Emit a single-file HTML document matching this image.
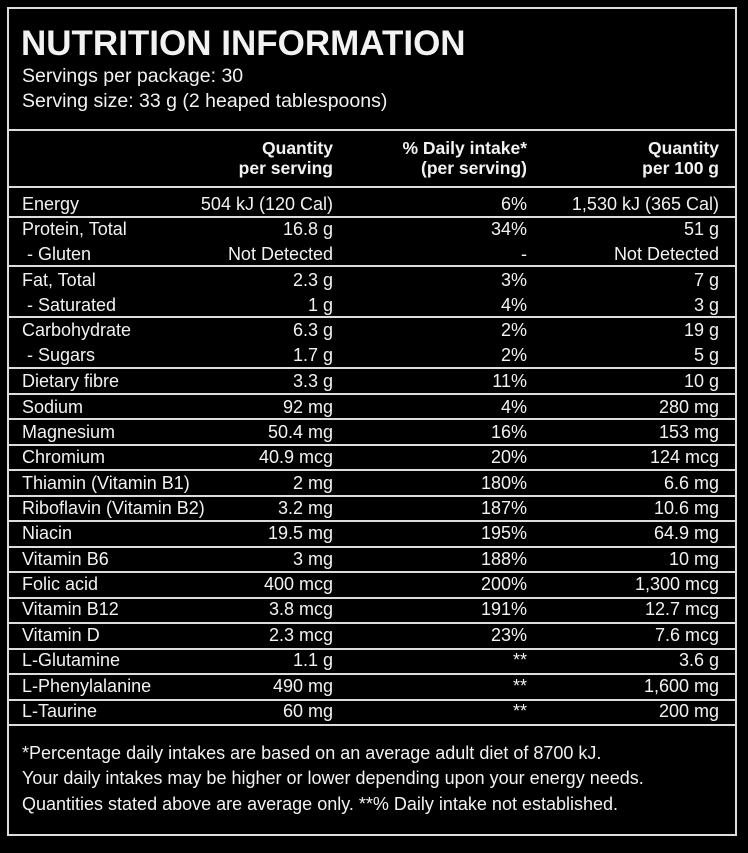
<!DOCTYPE html>
<html><head><meta charset="utf-8"><style>
body{margin:0;background:#000;width:748px;height:853px;overflow:hidden;position:relative;font-family:"Liberation Sans",sans-serif;color:#f2f2f2}
.box{position:absolute;left:7px;top:7px;width:726px;height:825px;border:2px solid #ddd}
.h{position:absolute;left:7px;width:730px;height:2px;background:#ddd}
.t{position:absolute;white-space:nowrap;line-height:20px;font-size:18px}
.r{text-align:right}
.b{font-weight:bold;font-size:17.5px}
</style></head><body>
<div class="box"></div>
<div class="t b" style="left:21px;top:27px;font-size:35px;line-height:34px">NUTRITION INFORMATION</div>
<div class="t" style="left:22px;top:66px;font-size:19.5px">Servings per package: 30</div>
<div class="t" style="left:22px;top:91px;font-size:19.5px">Serving size: 33 g (2 heaped tablespoons)</div>
<div class="h" style="top:129px"></div>
<div class="t b r" style="right:415px;top:138px">Quantity<br>per serving</div>
<div class="t b r" style="right:221px;top:138px">% Daily intake*<br>(per serving)</div>
<div class="t b r" style="right:29px;top:138px">Quantity<br>per 100 g</div>
<div class="h" style="top:186px"></div>
<div class="h" style="top:216px"></div>
<div class="h" style="top:265px"></div>
<div class="h" style="top:316px"></div>
<div class="h" style="top:367px"></div>
<div class="h" style="top:393px"></div>
<div class="h" style="top:418px"></div>
<div class="h" style="top:444px"></div>
<div class="h" style="top:469px"></div>
<div class="h" style="top:495px"></div>
<div class="h" style="top:520px"></div>
<div class="h" style="top:546px"></div>
<div class="h" style="top:571px"></div>
<div class="h" style="top:597px"></div>
<div class="h" style="top:622px"></div>
<div class="h" style="top:648px"></div>
<div class="h" style="top:673px"></div>
<div class="h" style="top:699px"></div>
<div class="h" style="top:724px"></div>

<div class="t" style="left:22px;top:194px">Energy</div><div class="t r" style="right:415px;top:194px">504 kJ (120 Cal)</div><div class="t r" style="right:221px;top:194px">6%</div><div class="t r" style="right:29px;top:194px">1,530 kJ (365 Cal)</div>
<div class="t" style="left:22px;top:219px">Protein, Total</div><div class="t r" style="right:415px;top:219px">16.8 g</div><div class="t r" style="right:221px;top:219px">34%</div><div class="t r" style="right:29px;top:219px">51 g</div>
<div class="t" style="left:22px;top:244px">&nbsp;- Gluten</div><div class="t r" style="right:415px;top:244px">Not Detected</div><div class="t r" style="right:221px;top:244px">-</div><div class="t r" style="right:29px;top:244px">Not Detected</div>
<div class="t" style="left:22px;top:270px">Fat, Total</div><div class="t r" style="right:415px;top:270px">2.3 g</div><div class="t r" style="right:221px;top:270px">3%</div><div class="t r" style="right:29px;top:270px">7 g</div>
<div class="t" style="left:22px;top:295px">&nbsp;- Saturated</div><div class="t r" style="right:415px;top:295px">1 g</div><div class="t r" style="right:221px;top:295px">4%</div><div class="t r" style="right:29px;top:295px">3 g</div>
<div class="t" style="left:22px;top:320px">Carbohydrate</div><div class="t r" style="right:415px;top:320px">6.3 g</div><div class="t r" style="right:221px;top:320px">2%</div><div class="t r" style="right:29px;top:320px">19 g</div>
<div class="t" style="left:22px;top:345px">&nbsp;- Sugars</div><div class="t r" style="right:415px;top:345px">1.7 g</div><div class="t r" style="right:221px;top:345px">2%</div><div class="t r" style="right:29px;top:345px">5 g</div>
<div class="t" style="left:22px;top:371px">Dietary fibre</div><div class="t r" style="right:415px;top:371px">3.3 g</div><div class="t r" style="right:221px;top:371px">11%</div><div class="t r" style="right:29px;top:371px">10 g</div>
<div class="t" style="left:22px;top:397px">Sodium</div><div class="t r" style="right:415px;top:397px">92 mg</div><div class="t r" style="right:221px;top:397px">4%</div><div class="t r" style="right:29px;top:397px">280 mg</div>
<div class="t" style="left:22px;top:422px">Magnesium</div><div class="t r" style="right:415px;top:422px">50.4 mg</div><div class="t r" style="right:221px;top:422px">16%</div><div class="t r" style="right:29px;top:422px">153 mg</div>
<div class="t" style="left:22px;top:447px">Chromium</div><div class="t r" style="right:415px;top:447px">40.9 mcg</div><div class="t r" style="right:221px;top:447px">20%</div><div class="t r" style="right:29px;top:447px">124 mcg</div>
<div class="t" style="left:22px;top:473px">Thiamin (Vitamin B1)</div><div class="t r" style="right:415px;top:473px">2 mg</div><div class="t r" style="right:221px;top:473px">180%</div><div class="t r" style="right:29px;top:473px">6.6 mg</div>
<div class="t" style="left:22px;top:498px">Riboflavin (Vitamin B2)</div><div class="t r" style="right:415px;top:498px">3.2 mg</div><div class="t r" style="right:221px;top:498px">187%</div><div class="t r" style="right:29px;top:498px">10.6 mg</div>
<div class="t" style="left:22px;top:523px">Niacin</div><div class="t r" style="right:415px;top:523px">19.5 mg</div><div class="t r" style="right:221px;top:523px">195%</div><div class="t r" style="right:29px;top:523px">64.9 mg</div>
<div class="t" style="left:22px;top:549px">Vitamin B6</div><div class="t r" style="right:415px;top:549px">3 mg</div><div class="t r" style="right:221px;top:549px">188%</div><div class="t r" style="right:29px;top:549px">10 mg</div>
<div class="t" style="left:22px;top:574px">Folic acid</div><div class="t r" style="right:415px;top:574px">400 mcg</div><div class="t r" style="right:221px;top:574px">200%</div><div class="t r" style="right:29px;top:574px">1,300 mcg</div>
<div class="t" style="left:22px;top:599px">Vitamin B12</div><div class="t r" style="right:415px;top:599px">3.8 mcg</div><div class="t r" style="right:221px;top:599px">191%</div><div class="t r" style="right:29px;top:599px">12.7 mcg</div>
<div class="t" style="left:22px;top:625px">Vitamin D</div><div class="t r" style="right:415px;top:625px">2.3 mcg</div><div class="t r" style="right:221px;top:625px">23%</div><div class="t r" style="right:29px;top:625px">7.6 mcg</div>
<div class="t" style="left:22px;top:650px">L-Glutamine</div><div class="t r" style="right:415px;top:650px">1.1 g</div><div class="t r" style="right:221px;top:650px">**</div><div class="t r" style="right:29px;top:650px">3.6 g</div>
<div class="t" style="left:22px;top:676px">L-Phenylalanine</div><div class="t r" style="right:415px;top:676px">490 mg</div><div class="t r" style="right:221px;top:676px">**</div><div class="t r" style="right:29px;top:676px">1,600 mg</div>
<div class="t" style="left:22px;top:701px">L-Taurine</div><div class="t r" style="right:415px;top:701px">60 mg</div><div class="t r" style="right:221px;top:701px">**</div><div class="t r" style="right:29px;top:701px">200 mg</div>

<div class="t" style="left:22px;top:743px">*Percentage daily intakes are based on an average adult diet of 8700 kJ.</div>
<div class="t" style="left:22px;top:768px">Your daily intakes may be higher or lower depending upon your energy needs.</div>
<div class="t" style="left:22px;top:794px">Quantities stated above are average only. **% Daily intake not established.</div>
</body></html>
